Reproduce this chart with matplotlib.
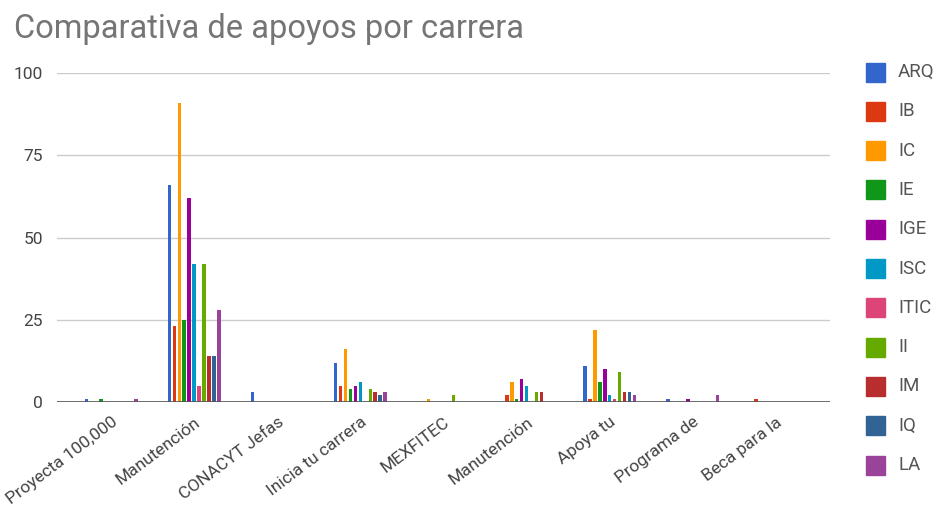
import numpy as np
import matplotlib
matplotlib.use("Agg")
import matplotlib.pyplot as plt
from matplotlib.patches import Rectangle

plt.rcParams['font.family'] = ['Roboto', 'DejaVu Sans']

categorias = ["Proyecta 100,000", "Manutención", "CONACYT Jefas", "Inicia tu carrera",
              "MEXFITEC", "Manutención", "Apoya tu", "Programa de", "Beca para la"]

carreras = ["ARQ", "IB", "IC", "IE", "IGE", "ISC", "ITIC", "II", "IM", "IQ", "LA"]
colores = ["#3366cc", "#dc3912", "#ff9900", "#109618", "#990099", "#0099c6",
           "#dd4477", "#66aa00", "#b82e2e", "#316395", "#994499"]

arq = [1, 66, 3, 12, 0, 0, 11, 1, 0]
ib = [0, 23, 0, 5, 0, 2, 1, 0, 1]
ic = [0, 91, 0, 16, 1, 6, 22, 0, 0]
ie = [1, 25, 0, 4, 0, 1, 6, 0, 0]
ige = [0, 62, 0, 5, 0, 7, 10, 1, 0]
isc = [0, 42, 0, 6, 0, 5, 2, 0, 0]
itic = [0, 5, 0, 0, 0, 0, 1, 0, 0]
ii = [0, 42, 0, 4, 2, 3, 9, 0, 0]
im = [0, 14, 0, 3, 0, 3, 3, 0, 0]
iq = [0, 14, 0, 2, 0, 0, 3, 0, 0]
la = [1, 28, 0, 3, 0, 0, 2, 2, 0]

series = [arq, ib, ic, ie, ige, isc, itic, ii, im, iq, la]

W, H = 942, 527
fig = plt.figure(figsize=(W / 100, H / 100), dpi=100)
ax = fig.add_axes([57 / W, 1 - 402 / H, (830 - 57) / W, (402 - 73) / H])

x = np.arange(len(categorias))
paso = 0.0596
ancho = 0.042
n = len(series)
for i, (vals, nombre, col) in enumerate(zip(series, carreras, colores)):
    offset = (i - (n - 1) / 2) * paso
    ax.bar(x + offset, vals, width=ancho, color=col, label=nombre, zorder=3)

ax.set_xlim(-0.65, 8.65)
ax.set_ylim(0, 100)
ax.set_yticks([0, 25, 50, 75, 100])
ax.grid(axis='y', color='#cccccc', linewidth=1, zorder=0)
ax.axhline(0, color='#555555', linewidth=1.2, zorder=4)
for s in ax.spines.values():
    s.set_visible(False)
ax.tick_params(axis='both', length=0, labelsize=12.5, labelcolor='#444444')
ax.tick_params(axis='y', pad=10)
ax.set_xticks(x)
ax.set_xticklabels(categorias, rotation=37, ha='right', rotation_mode='anchor')
ax.tick_params(axis='x', pad=9)

fig.text(14 / W, 1 - 38 / H, "Comparativa de apoyos por carrera",
         fontsize=23.5, color='#757575', va='baseline', ha='left')

# leyenda a la derecha, dibujada a mano
for k, (nombre, col) in enumerate(zip(carreras, colores)):
    yc = 72 + k * 39.3
    fig.patches.append(Rectangle((866 / W, 1 - (yc + 9.5) / H), 19 / W, 19 / H,
                                 transform=fig.transFigure, color=col, figure=fig))
    fig.text(898 / W, 1 - yc / H, nombre, fontsize=13.5, color='#555555',
             va='center', ha='left')

fig.savefig("out.png", dpi=100)
